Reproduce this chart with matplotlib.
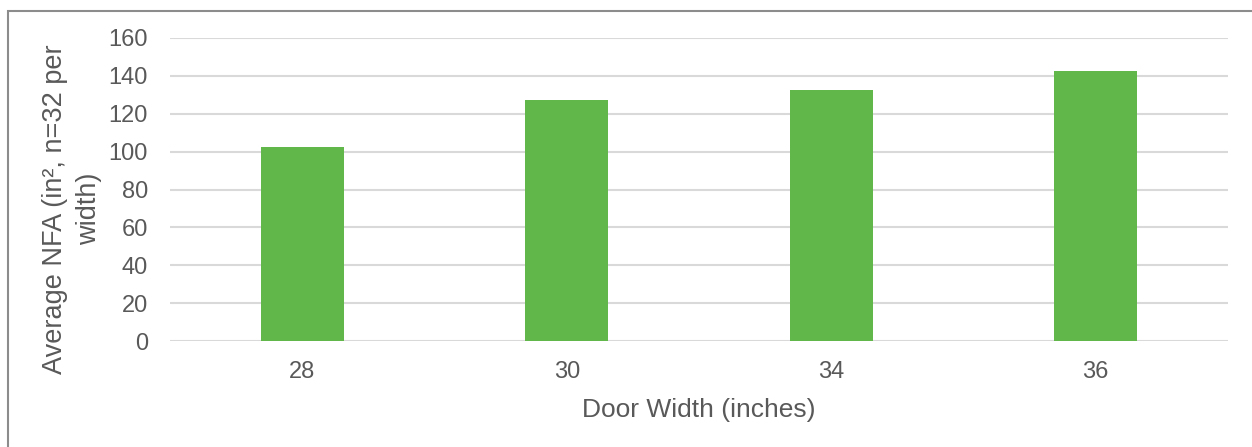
import matplotlib
matplotlib.use("Agg")
import matplotlib.pyplot as plt
from matplotlib.patches import Rectangle
import numpy as np

# door widths and average NFA
widths = ["28", "30", "34", "36"]
avg_nfa = [102.5, 127.5, 132.3, 142.8]
yticks = [0, 20, 40, 60, 80, 100, 120, 140, 160]

plt.rcParams['font.family'] = ['Liberation Sans', 'DejaVu Sans']

txt = '#595959'
fig = plt.figure(figsize=(12.52, 4.47), dpi=100)
ax = fig.add_axes([170/1252, 1-341/447, (1228-170)/1252, (341-38)/447])

x = np.arange(len(widths))
ax.bar(x, avg_nfa, width=0.315, color='#62b74b', zorder=3)

ax.set_xlim(-0.5, len(widths)-0.5)
ax.set_ylim(0, 160)
ax.set_yticks(yticks)
ax.set_xticks(x)
ax.set_xticklabels(widths)
ax.grid(axis='y', color='#d9d9d9', linewidth=1.5, zorder=0)
ax.set_axisbelow(True)
for s in ax.spines.values():
    s.set_visible(False)
ax.tick_params(axis='both', length=0, labelsize=17, colors=txt)
ax.tick_params(axis='y', pad=16)
ax.tick_params(axis='x', pad=14.5)

ax.set_xlabel('Door Width (inches)', fontsize=19, color=txt, labelpad=10.5)
ax.set_ylabel('Average NFA (in\u00b2, n=32 per\nwidth)', fontsize=19.5, color=txt,
              ha='center', va='center', linespacing=1.4)
ax.yaxis.set_label_coords((72-170)/1058, (341-209)/303)

# thin frame like the pasted chart border
fig.patches.append(Rectangle((8/1252, -0.1), 1.2, 1-11/447+0.1, transform=fig.transFigure,
                             fill=False, edgecolor='#8c8c8c', linewidth=1.5))

fig.savefig('out.png', dpi=100)
